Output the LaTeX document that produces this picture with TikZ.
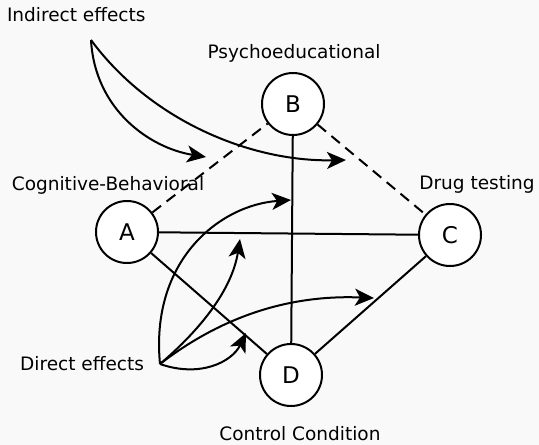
\documentclass[tikz,border=0pt]{standalone}
\usepackage{fontspec}
\setmainfont{DejaVu Sans}
\usetikzlibrary{arrows.meta, positioning, calc}
\definecolor{cbg}{HTML}{F9F9F9}
\tikzset{
  every picture/.style={line width=2pt, x=1pt, y=-1pt},
  group/.style={circle, draw, fill=white, minimum size=62pt, inner sep=0pt, font=\fontsize{23}{26}\selectfont},
  label/.style={font=\fontsize{18.5}{21}\selectfont, inner sep=1pt},
  effect/.style={-{Stealth[length=19pt, width=17pt, inset=5pt]}},
  link/.style={line width=2pt},
}
\begin{document}
\begin{tikzpicture}
  \fill[cbg] (0,0) rectangle (539,445);
  \useasboundingbox (0,0) rectangle (539,445);
  % groups
  \node[group] (a) at (127,232) {A};
  \node[group] (b) at (293,104) {B};
  \node[group] (c) at (450,235) {C};
  \node[group] (d) at (291,375) {D};
  \node[label] (la) at (108,185) {Cognitive-Behavioral};
  \node[label] (lb) at (294,53) {Psychoeducational};
  \node[label] (lc) at (477,184) {Drug testing};
  \node[label] (ld) at (300,434) {Control Condition};
  % comparisons
  \draw[link, dash pattern=on 11pt off 7pt] (a) -- (b);
  \draw[link, dash pattern=on 11pt off 7pt] (b) -- (c);
  \draw[link] (a) -- (c);
  \draw[link] (a) -- (d);
  \draw[link] (b) -- (d);
  \draw[link] (c) -- (d);
  % effects
  \node[label, anchor=west] (ind) at (5,15) {Indirect effects};
  \node[label, anchor=east] (dir) at (146,364) {Direct effects};
  \coordinate (i0) at (91,40);
  \coordinate (d0) at (160,364);
  \coordinate (i1) at (206,157);
  \coordinate (i2) at (346,160);
  \coordinate (d1) at (291,200);
  \coordinate (d2) at (240,239);
  \coordinate (d3) at (246,333);
  \coordinate (d4) at (374,298);
  \draw[effect] (i0) .. controls (95,110) and (150,148) .. (i1);
  \draw[effect] (i0) .. controls (150,120) and (250,162) .. (i2);
  \draw[effect] (d0) .. controls (150,260) and (220,205) .. (d1);
  \draw[effect] (d0) .. controls (200,330) and (232,290) .. (d2);
  \draw[effect] (d0) .. controls (200,378) and (232,362) .. (d3);
  \draw[effect] (d0) .. controls (230,310) and (300,295) .. (d4);
\end{tikzpicture}
\end{document}
